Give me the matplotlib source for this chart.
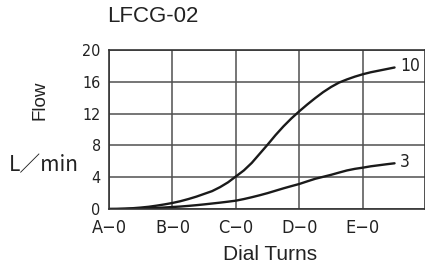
import matplotlib.pyplot as plt

# dial position (A-0 = 0, B-0 = 1, ...) and flow readings in L/min
turns = [0, 0.125, 0.25, 0.375, 0.5, 0.625, 0.75, 0.875, 1, 1.125, 1.25,
         1.375, 1.5, 1.625, 1.75, 1.875, 2, 2.125, 2.25, 2.375, 2.5, 2.625,
         2.75, 2.875, 3, 3.125, 3.25, 3.375, 3.5, 3.625, 3.75, 3.875, 4,
         4.125, 4.25, 4.375, 4.5]
flow_10 = [0, 0.01, 0.04, 0.1, 0.18, 0.28, 0.42, 0.58, 0.76, 0.98, 1.25,
           1.55, 1.9, 2.25, 2.75, 3.35, 4.1, 4.85, 5.8, 6.95, 8.1, 9.3,
           10.4, 11.4, 12.3, 13.15, 13.95, 14.7, 15.35, 15.9, 16.3, 16.65,
           16.95, 17.2, 17.4, 17.6, 17.8]
flow_3 = [0, 0.0, 0.02, 0.04, 0.07, 0.1, 0.14, 0.19, 0.25, 0.31, 0.39, 0.48,
          0.58, 0.69, 0.8, 0.92, 1.05, 1.25, 1.48, 1.73, 2.0, 2.3, 2.6, 2.88,
          3.15, 3.48, 3.8, 4.05, 4.3, 4.58, 4.85, 5.05, 5.2, 5.37, 5.5, 5.63,
          5.75]
curve_names = ["10", "3"]
x_labels = ["A\u22120", "B\u22120", "C\u22120", "D\u22120", "E\u22120"]
y_ticks = [0, 4, 8, 12, 16, 20]

plain = ['Liberation Sans', 'DejaVu Sans']
ink = '#222222'

fig = plt.figure(figsize=(4.25, 2.66), dpi=100)
ax = fig.add_axes([109 / 425, 1 - 209 / 266, 1 - 109 / 425, 159 / 266])

for ys, name in zip([flow_10, flow_3], curve_names):
    ax.plot(turns, ys, color='#1a1a1a', lw=1.7, solid_capstyle='round')
    ax.annotate(name, (turns[-1], ys[-1]), xytext=(4, 1),
                textcoords='offset points', va='center', ha='left',
                fontsize=12.5, family='DejaVu Sans', fontstretch='condensed',
                color=ink)

ax.set_xlim(0, 4.98)
ax.set_ylim(0, 20)
ax.set_xticks(range(len(x_labels)))
ax.set_xticklabels(x_labels, family='DejaVu Sans', fontstretch='condensed',
                   fontsize=13)
ax.set_yticks(y_ticks)
ax.set_yticklabels([str(v) for v in y_ticks], family='DejaVu Sans',
                   fontstretch='condensed', fontsize=11.5)
ax.tick_params(length=0, colors=ink)
ax.tick_params(axis='x', pad=7)
ax.tick_params(axis='y', pad=6)
ax.grid(True, color='#505050', lw=1.1)
for s in ax.spines.values():
    s.set_color('#333333')
    s.set_linewidth(1.2)

fig.text(107 / 425, 1 - 17 / 266, "LFCG-02", family=plain, fontsize=16,
         va='center', ha='left', color=ink)
fig.text(40 / 425, 1 - 100 / 266, "Flow", family=plain, fontsize=13.5,
         rotation=90, va='center', ha='center', color=ink)
fig.text(44 / 425, 1 - 165 / 266, "L\uff0fmin",
         family=['Noto Sans CJK JP', 'DejaVu Sans'], fontsize=15,
         va='center', ha='center', color=ink)
fig.text(270 / 425, 1 - 254 / 266, "Dial Turns", family=plain, fontsize=15,
         va='center', ha='center', color=ink)

fig.savefig('out.png', dpi=100)
